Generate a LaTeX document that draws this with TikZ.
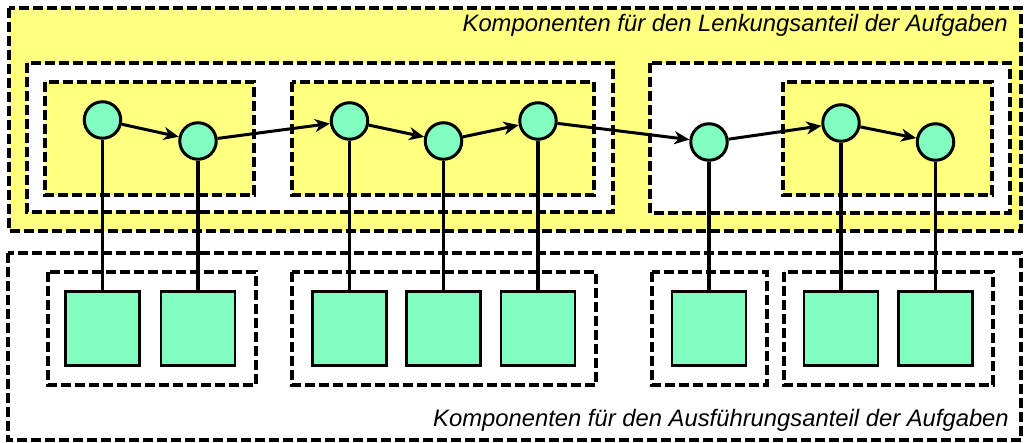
\documentclass[tikz,border=0pt]{standalone}
\usepackage{fontspec}
\setmainfont{Liberation Sans}
\usetikzlibrary{arrows.meta}
\definecolor{boxyellow}{RGB}{255,255,128}
\definecolor{nodegreen}{RGB}{128,255,192}
\begin{document}
\begin{tikzpicture}[x=1pt,y=-1pt,
  dbox/.style={draw=black,line width=3.2pt,dash pattern=on 10pt off 4pt},
  knot/.style={circle,draw=black,fill=nodegreen,line width=3pt,minimum size=36.5pt,inner sep=0pt},
  comp/.style={rectangle,draw=black,fill=nodegreen,line width=2.6pt,minimum size=74pt,inner sep=0pt},
  flow/.style={line width=3pt,-{Stealth[length=15pt,width=13pt,inset=4.5pt]}},
  link/.style={line width=3.6pt},
  captext/.style={font=\itshape\fontsize{23.8}{28}\selectfont,inner sep=0pt,anchor=base east}]
\useasboundingbox (0,0) rectangle (1024,442);
% top region
\draw[dbox,fill=boxyellow] (9,8) rectangle (1021,231);
\draw[dbox,fill=white] (27,63) rectangle (613,212);
\draw[dbox,fill=white] (650,63) rectangle (1010,213);
\draw[dbox,fill=boxyellow] (45,82) rectangle (254,195);
\draw[dbox,fill=boxyellow] (292,82) rectangle (594,195);
\draw[dbox,fill=boxyellow] (783,82) rectangle (992,195);
\node[captext] (t1) at (1008,31.5) {Komponenten für den Lenkungsanteil der Aufgaben};
% bottom region
\draw[dbox] (8,253) rectangle (1021,440);
\draw[dbox] (48,272) rectangle (256,385);
\draw[dbox] (292,272) rectangle (596,385);
\draw[dbox] (652,272) rectangle (767,385);
\draw[dbox] (784,272) rectangle (993,385);
\node[captext] (t2) at (1009,426) {Komponenten für den Ausführungsanteil der Aufgaben};
% squares
\node[comp] (s1) at (102.5,328.5) {};
\node[comp] (s2) at (198,328.5) {};
\node[comp] (s3) at (349.5,328.5) {};
\node[comp] (s4) at (443.5,328.5) {};
\node[comp] (s5) at (538,328.5) {};
\node[comp] (s6) at (709,328.5) {};
\node[comp] (s7) at (841,328.5) {};
\node[comp] (s8) at (935.5,328.5) {};
% circles
\node[knot] (c1) at (102.5,120) {};
\node[knot] (c2) at (198,141) {};
\node[knot] (c3) at (349.5,121) {};
\node[knot] (c4) at (443.5,141) {};
\node[knot] (c5) at (538,121) {};
\node[knot] (c6) at (709,142) {};
\node[knot] (c7) at (841,123) {};
\node[knot] (c8) at (935.5,142) {};
% vertical links
\foreach \i in {1,...,8} {
  \draw[link] (c\i.south) -- (s\i.north);
}
% arrows
\draw[flow] (c1) -- (c2);
\draw[flow] (c2) -- (c3);
\draw[flow] (c3) -- (c4);
\draw[flow] (c4) -- (c5);
\draw[flow] (c5) -- (c6);
\draw[flow] (c6) -- (c7);
\draw[flow] (c7) -- (c8);
\end{tikzpicture}
\end{document}
